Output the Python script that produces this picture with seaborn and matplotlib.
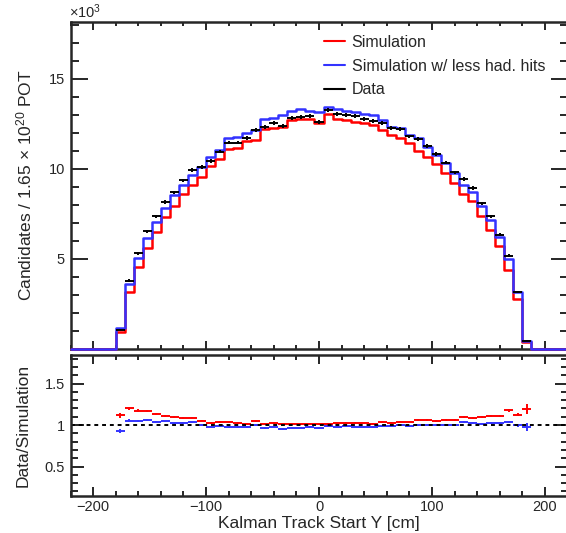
import numpy as np
import pandas as pd
import matplotlib
matplotlib.use("Agg")
import matplotlib.pyplot as plt
import seaborn as sns
from matplotlib.ticker import MultipleLocator, FormatStrFormatter
from matplotlib.lines import Line2D

# ---- data (units of 10^3 candidates), 8 cm bins from -220 to 220 ----
bin_lo, bin_hi, bin_w = -220, 220, 8
first_filled = -180  # lower edge of first non-empty bin

data_vals = [1.05, 3.78, 5.30, 6.52, 7.35, 8.15, 8.69, 9.35, 9.94, 10.09,
             10.45, 10.96, 11.46, 11.46, 11.70, 12.15, 12.35, 12.57, 12.41, 12.81,
             12.89, 12.96, 12.63, 13.28, 13.06, 13.00, 12.94, 12.78, 12.67, 12.57,
             12.26, 12.22, 11.80, 11.65, 11.26, 10.81, 10.35, 9.80, 9.43, 8.93,
             8.09, 7.35, 6.33, 5.17, 3.13, 0.43]
sim_vals = [0.94, 3.15, 4.52, 5.59, 6.46, 7.31, 7.94, 8.59, 9.11, 9.57,
            10.17, 10.54, 11.09, 11.15, 11.52, 11.61, 12.22, 12.26, 12.31, 12.72,
            12.76, 12.78, 12.54, 13.06, 12.78, 12.69, 12.63, 12.54, 12.44, 12.17,
            11.89, 11.74, 11.43, 11.00, 10.64, 10.28, 9.76, 9.20, 8.61, 8.19,
            7.39, 6.61, 5.69, 4.39, 2.78, 0.36]
simlh_vals = [1.13, 3.59, 5.04, 6.17, 7.06, 7.81, 8.52, 9.09, 9.63, 10.09,
              10.65, 11.06, 11.70, 11.76, 11.98, 12.17, 12.78, 12.81, 13.00, 13.24,
              13.31, 13.24, 13.15, 13.46, 13.33, 13.22, 13.18, 13.06, 13.00, 12.72,
              12.35, 12.26, 11.89, 11.70, 11.24, 10.78, 10.35, 9.76, 9.11, 8.69,
              7.94, 7.17, 6.20, 4.98, 3.13, 0.44]

legend_labels = ["Simulation", "Simulation w/ less had. hits", "Data"]
xlabel = "Kalman Track Start Y [cm]"
ylabel_top = "Candidates / 1.65 \u00d7 10$^{20}$ POT"
ylabel_bot = "Data/Simulation"

# ---- derived arrays ----
edges = np.arange(bin_lo, bin_hi + bin_w, bin_w)
centers = edges[:-1] + bin_w / 2
n_bins = len(centers)
start = int((first_filled - bin_lo) / bin_w)
def full(vals):
    arr = np.zeros(n_bins)
    arr[start:start + len(vals)] = vals
    return arr
d_full = full(data_vals)
s_full = full(sim_vals)
b_full = full(simlh_vals)
hist_df = pd.DataFrame({"y": centers, "sim": s_full, "simlh": b_full})
mask = d_full > 0
xc = centers[mask]
d = d_full[mask]
s = s_full[mask]
b = b_full[mask]
d_err = np.sqrt(d * 1000.0) / 1000.0
r_s = d / s
r_b = d / b
r_s_err = d_err / s
r_b_err = d_err / b

# ---- style ----
sns.set_style("ticks")
plt.rcParams['font.family'] = ['Liberation Sans', 'DejaVu Sans']
plt.rcParams['mathtext.fontset'] = 'custom'
plt.rcParams['mathtext.rm'] = 'Liberation Sans'
plt.rcParams['mathtext.it'] = 'Liberation Sans:italic'
plt.rcParams['mathtext.bf'] = 'Liberation Sans:bold'

W, H = 566, 533
fig = plt.figure(figsize=(W / 100, H / 100), dpi=100)
def frac(x0, y0, x1, y1):
    return [x0 / W, 1 - y1 / H, (x1 - x0) / W, (y1 - y0) / H]
ax = fig.add_axes(frac(70.5, 22, 567.5, 348.5))
axr = fig.add_axes(frac(70.5, 355, 567.5, 496))

red = "#ff0000"
blue = "#3333ff"

sns.histplot(data=hist_df, x="y", weights="sim", bins=list(edges), element="step",
             fill=False, color=red, lw=1.8, ax=ax, zorder=3, clip_on=False)
sns.histplot(data=hist_df, x="y", weights="simlh", bins=list(edges), element="step",
             fill=False, color=blue, lw=1.8, ax=ax, zorder=3, clip_on=False)
ax.errorbar(xc, d, xerr=bin_w / 2, yerr=d_err, fmt='none', ecolor='black',
            elinewidth=1.4, capsize=0, zorder=5)

ax.set_xlim(bin_lo, bin_hi)
ax.set_ylim(0, 18.17)
ax.set_xlabel("")
ax.set_ylabel(ylabel_top, fontsize=12.5, labelpad=10)
ax.yaxis.set_minor_locator(MultipleLocator(1))
ax.xaxis.set_major_locator(MultipleLocator(100))
ax.xaxis.set_minor_locator(MultipleLocator(20))
ax.set_yticks([5, 10, 15])
ax.tick_params(labelbottom=False)
ax.tick_params(axis='both', which='both', direction='in', top=True, right=True,
               width=1.4, labelsize=10.5)
ax.tick_params(axis='y', which='major', length=12, pad=4)
ax.tick_params(axis='y', which='minor', length=6)
ax.tick_params(axis='x', which='major', length=6)
ax.tick_params(axis='x', which='minor', length=3)
for sp in ax.spines.values():
    sp.set_linewidth(1.8)
    sp.set_visible(True)

handles = [Line2D([], [], color=red, lw=1.5), Line2D([], [], color=blue, lw=1.5),
           Line2D([], [], color='black', lw=1.5)]
ax.legend(handles, legend_labels, loc='upper left', bbox_to_anchor=(0.49, 0.99),
          frameon=False, fontsize=11.5, handlelength=1.35, handletextpad=0.4,
          labelspacing=0.55, borderaxespad=0.2)

fig.text(69 / W, 1 - 12 / H, "\u00d710$^{3}$", fontsize=10.5, ha='left', va='center')

# ---- ratio panel ----
axr.errorbar(xc, r_s, xerr=bin_w / 2, yerr=r_s_err, fmt='none', ecolor=red,
             elinewidth=1.4, capsize=0)
axr.errorbar(xc, r_b, xerr=bin_w / 2, yerr=r_b_err, fmt='none', ecolor=blue,
             elinewidth=1.4, capsize=0)
axr.axhline(1.0, color='black', lw=1.4, linestyle=(0, (2, 2)))
axr.set_xlim(bin_lo, bin_hi)
axr.set_ylim(0.145, 1.845)
axr.xaxis.set_major_locator(MultipleLocator(100))
axr.xaxis.set_minor_locator(MultipleLocator(20))
axr.yaxis.set_major_locator(MultipleLocator(0.5))
axr.yaxis.set_minor_locator(MultipleLocator(0.1))
axr.yaxis.set_major_formatter(FormatStrFormatter('%g'))
axr.tick_params(axis='both', which='both', direction='in', top=True, right=True,
                width=1.4, labelsize=10.5)
axr.tick_params(axis='y', which='major', length=9.5, pad=4)
axr.tick_params(axis='y', which='minor', length=5)
axr.tick_params(axis='x', which='major', length=6.5, pad=3)
axr.tick_params(axis='x', which='minor', length=3.5)
axr.set_xlabel(xlabel, fontsize=12.5, labelpad=1)
axr.set_ylabel(ylabel_bot, fontsize=12.5, labelpad=10)
for sp in axr.spines.values():
    sp.set_linewidth(1.8)
    sp.set_visible(True)

fig.align_ylabels([ax, axr])
fig.savefig("out.png", dpi=100)
